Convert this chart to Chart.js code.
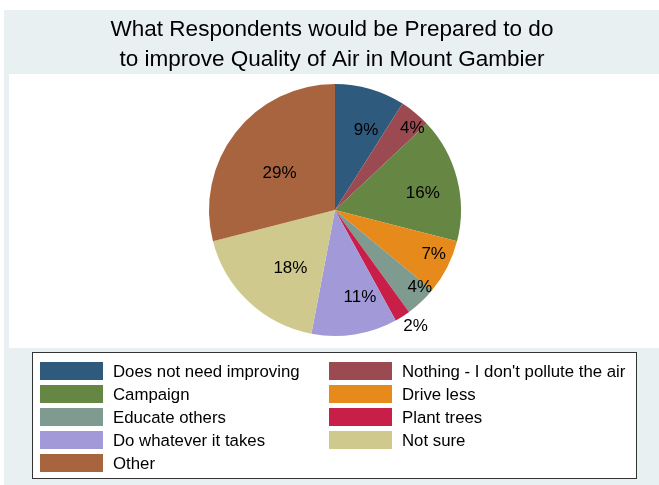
<!DOCTYPE html>
<html>
<head>
<meta charset="utf-8">
<script src="https://cdn.jsdelivr.net/npm/chart.js@4.4.0/dist/chart.umd.min.js"></script>
<style>
  html, body { margin: 0; padding: 0; background: #fff; }
  canvas { display: block; }
</style>
</head>
<body>
<canvas id="pie" width="659" height="485"></canvas>
<script>
// responses, clockwise from 12 o'clock
const categories = [
  "Does not need improving",
  "Nothing - I don't pollute the air",
  "Campaign",
  "Drive less",
  "Educate others",
  "Plant trees",
  "Do whatever it takes",
  "Not sure",
  "Other"
];
const shares = [9, 4, 16, 7, 4, 2, 11, 18, 29];

const titleLines = [
  "What Respondents would be Prepared to do",
  "to improve Quality of Air in Mount Gambier"
];

const sliceColours = [
  "#2e5a7e", "#9b4a52", "#668644", "#e68a1c", "#7f9a8e",
  "#c81f48", "#a29ad8", "#cfc98e", "#a8643f"
];

// where each % label sits: fraction of radius, and turn off the slice middle (deg)
const labelRadius = [0.68, 0.89, 0.71, 0.86, 0.91, 1.12, 0.72, 0.58, 0.53];
const labelTurn = [5, 4, 3.5, -2.6, -4.5, -2.4, -7, -5.6, -4];

const FONT = "'Liberation Sans', Arial, sans-serif";

const backdrop = {
  id: "backdrop",
  beforeDraw(chart) {
    const ctx = chart.ctx;
    ctx.save();
    ctx.fillStyle = "#ffffff";
    ctx.fillRect(0, 0, chart.width, chart.height);
    ctx.fillStyle = "#e8f0f2";
    ctx.fillRect(4, 10, chart.width - 4, chart.height - 10);
    ctx.fillStyle = "#ffffff";
    ctx.fillRect(9, 74, chart.width - 9, 274);

    ctx.fillStyle = "#000";
    ctx.font = "22.5px " + FONT;
    ctx.textAlign = "center";
    ctx.textBaseline = "middle";
    titleLines.forEach((t, i) => ctx.fillText(t, 332, 30 + i * 30));
    ctx.restore();
  }
};

const sliceLabels = {
  id: "sliceLabels",
  afterDatasetsDraw(chart) {
    const ctx = chart.ctx;
    const arcs = chart.getDatasetMeta(0).data;
    ctx.save();
    ctx.fillStyle = "#000";
    ctx.font = "17px " + FONT;
    ctx.textAlign = "center";
    ctx.textBaseline = "middle";
    arcs.forEach((arc, i) => {
      const a = (arc.startAngle + arc.endAngle) / 2 + labelTurn[i] * Math.PI / 180;
      const r = arc.outerRadius * labelRadius[i];
      ctx.fillText(shares[i] + "%", arc.x + Math.cos(a) * r, arc.y + Math.sin(a) * r);
    });
    ctx.restore();
  }
};

const keyBox = {
  id: "keyBox",
  afterDraw(chart) {
    const ctx = chart.ctx;
    const colours = chart.data.datasets[0].backgroundColor;
    ctx.save();
    ctx.fillStyle = "#fff";
    ctx.fillRect(32, 352, 605, 127);
    ctx.strokeStyle = "#333";
    ctx.lineWidth = 1;
    ctx.strokeRect(32.5, 352.5, 604, 126);
    ctx.font = "16.8px " + FONT;
    ctx.textBaseline = "middle";
    ctx.textAlign = "left";
    chart.data.labels.forEach((lab, i) => {
      const col = i % 2, row = Math.floor(i / 2);
      const x = col ? 329 : 40;
      const y = 371 + row * 23;
      ctx.fillStyle = colours[i];
      ctx.fillRect(x, y - 9, 63, 18);
      ctx.fillStyle = "#000";
      ctx.fillText(lab, x + 73, y + 1);
    });
    ctx.restore();
  }
};

new Chart(document.getElementById("pie"), {
  type: "pie",
  data: {
    labels: categories,
    datasets: [{
      data: shares,
      backgroundColor: sliceColours,
      borderWidth: 0
    }]
  },
  options: {
    responsive: false,
    devicePixelRatio: 1,
    animation: false,
    layout: { padding: { left: 209, right: 198, top: 84, bottom: 149 } },
    plugins: {
      legend: { display: false },
      title: { display: false },
      tooltip: { enabled: false }
    }
  },
  plugins: [backdrop, sliceLabels, keyBox]
});
</script>
</body>
</html>
